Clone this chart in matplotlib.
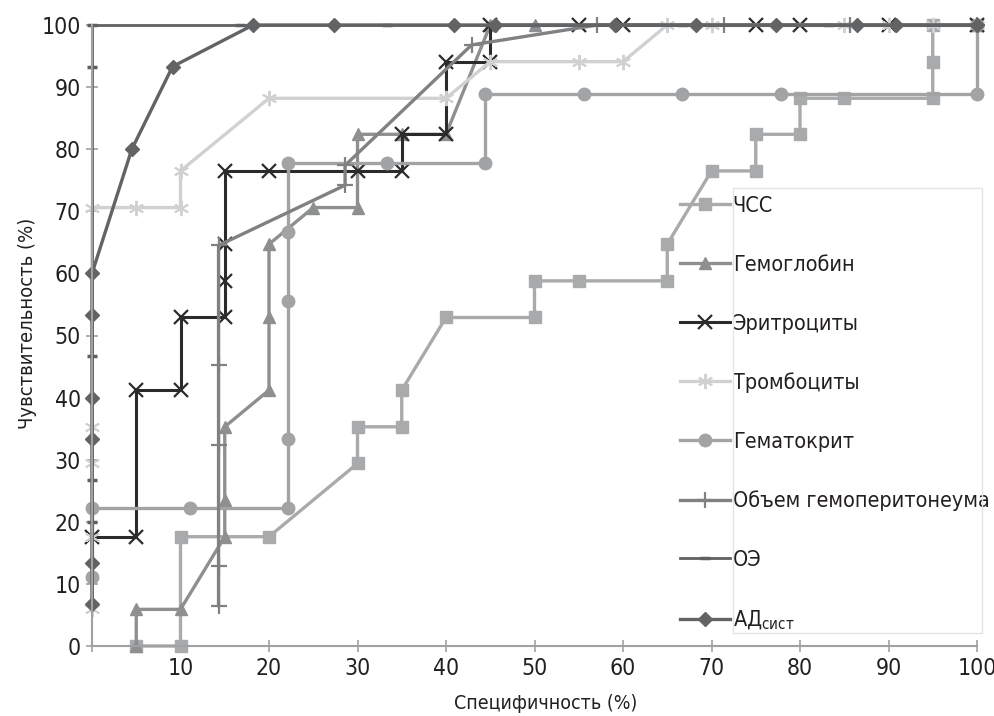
import matplotlib
matplotlib.use("Agg")
import matplotlib.pyplot as plt
from matplotlib.patches import Rectangle

plt.rcParams['font.family'] = ['DejaVu Sans']
plt.rcParams['font.stretch'] = 'condensed'
plt.rcParams['mathtext.default'] = 'regular'

# ROC data: specificity (x) and sensitivity (y), %
chss_x = [5, 10, 10, 20, 30, 30, 35, 35, 40, 50, 50, 55, 65, 65, 70, 75, 75, 80, 80, 85, 95, 95, 95, 100]
chss_y = [0, 0, 17.6, 17.6, 29.4, 35.3, 35.3, 41.2, 52.9, 52.9, 58.8, 58.8, 58.8, 64.7, 76.5, 76.5, 82.4, 82.4, 88.2, 88.2, 88.2, 94.1, 100, 100]

hgb_x = [5, 5, 10, 15, 15, 15, 20, 20, 20, 25, 30, 30, 35, 40, 45, 50, 100]
hgb_y = [0, 5.9, 5.9, 17.6, 23.5, 35.3, 41.2, 52.9, 64.7, 70.6, 70.6, 82.4, 82.4, 82.4, 100, 100, 100]

rbc_x = [0, 5, 5, 10, 10, 15, 15, 15, 15, 20, 30, 35, 35, 40, 40, 45, 45, 55, 60, 75, 80, 90, 100]
rbc_y = [17.6, 17.6, 41.2, 41.2, 52.9, 52.9, 58.8, 64.7, 76.5, 76.5, 76.5, 76.5, 82.4, 82.4, 94.1, 94.1, 100, 100, 100, 100, 100, 100, 100]

plt_x = [0, 0, 0, 0, 0, 5, 10, 10, 20, 40, 45, 55, 60, 65, 70, 85, 90, 95, 100]
plt_y = [5.9, 17.6, 29.4, 35.3, 70.6, 70.6, 70.6, 76.5, 88.2, 88.2, 94.1, 94.1, 94.1, 100, 100, 100, 100, 100, 100]

hct_x = [0, 0, 11.1, 22.2, 22.2, 22.2, 22.2, 22.2, 33.3, 44.4, 44.4, 55.6, 66.7, 77.8, 100, 100]
hct_y = [11.1, 22.2, 22.2, 22.2, 33.3, 55.6, 66.7, 77.8, 77.8, 77.8, 88.9, 88.9, 88.9, 88.9, 88.9, 100]

vol_x = [14.3, 14.3, 14.3, 14.3, 14.3, 28.6, 28.6, 42.9, 57.1, 71.4, 85.7, 100]
vol_y = [6.5, 12.9, 32.3, 45.2, 64.5, 74.2, 77.4, 96.8, 100, 100, 100, 100]

oe_x = [0, 0, 0, 0, 0, 0, 16.7, 33.3, 50, 66.7, 83.3, 100]
oe_y = [6.7, 20, 26.7, 46.7, 93.3, 100, 100, 100, 100, 100, 100, 100]

ad_x = [0, 0, 0, 0, 0, 0, 4.5, 9.1, 18.2, 27.3, 40.9, 45.5, 59.1, 68.2, 77.3, 86.4, 90.9, 100]
ad_y = [6.7, 13.3, 33.3, 40, 53.3, 60, 80, 93.3, 100, 100, 100, 100, 100, 100, 100, 100, 100, 100]

fig = plt.figure(figsize=(9.95, 7.16), dpi=100)
ax = fig.add_axes([92 / 995, 70 / 716, 885 / 995, 621 / 716])

ax.plot(chss_x, chss_y, color='#a9aaac', lw=2.4, marker='s', ms=8, label='ЧСС', clip_on=False)
ax.plot(hgb_x, hgb_y, color='#8e8f91', lw=2.4, marker='^', ms=8, label='Гемоглобин', clip_on=False)
ax.plot(rbc_x, rbc_y, color='#2b2b2b', lw=2.2, marker='x', ms=10, mew=1.6, label='Эритроциты', clip_on=False)
ax.plot(plt_x, plt_y, color='#d0d1d3', lw=2.4, marker=(6, 2, 0), ms=11, mew=1.4, label='Тромбоциты', clip_on=False)
ax.plot(hct_x, hct_y, color='#a2a3a5', lw=2.4, marker='o', ms=9, label='Гематокрит', clip_on=False)
ax.plot(vol_x, vol_y, color='#808183', lw=2.4, marker='+', ms=11, mew=1.6, label='Объем гемоперитонеума', clip_on=False)
ax.plot(oe_x, oe_y, color='#5f6062', lw=2.0, marker='_', ms=7, mew=2.5, label='ОЭ', clip_on=False)
ax.plot(ad_x, ad_y, color='#626365', lw=2.4, marker='D', ms=7, label='АД$_{сист}$', clip_on=False)

ax.set_xlim(0, 100)
ax.set_ylim(0, 100)
ax.set_xticks(range(0, 101, 10))
ax.set_xticklabels([''] + [str(v) for v in range(10, 101, 10)])
ax.set_yticks(range(0, 101, 10))
for s in ['top', 'right']:
    ax.spines[s].set_visible(False)
for s in ['left', 'bottom']:
    ax.spines[s].set_color('#a0a1a3')
    ax.spines[s].set_linewidth(1.5)
ax.tick_params(direction='inout', length=8, width=1.2, color='#a0a1a3',
               labelsize=16.5, labelcolor='#231f20', pad=4)

ax.set_xlabel('Специфичность (%)', fontsize=14, color='#231f20')
ax.set_ylabel('Чувствительность (%)', fontsize=14.5, color='#231f20')
ax.xaxis.set_label_coords(0.513, -0.077)
ax.yaxis.set_label_coords(-0.062, 0.52)

leg = ax.legend(loc='upper left', bbox_to_anchor=(680 / 995, 1 - 196 / 716),
                bbox_transform=fig.transFigure, frameon=False, fontsize=15.5,
                labelspacing=1.8, handlelength=2.3, handletextpad=0.15,
                borderpad=0, borderaxespad=0)
for t in leg.get_texts():
    t.set_color('#231f20')

fig.patches.append(Rectangle((733 / 995, 1 - 633 / 716), 249 / 995, 445 / 716,
                             transform=fig.transFigure, fill=False,
                             edgecolor='#e4e4e4', lw=1))

fig.savefig('out.png', dpi=100)
